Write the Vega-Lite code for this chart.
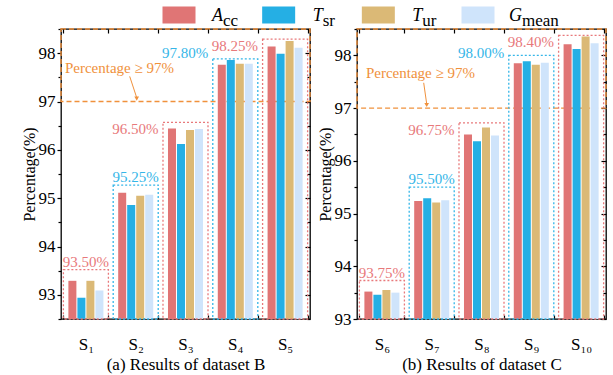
{
  "$schema": "https://vega.github.io/schema/vega-lite/v6.json",
  "padding": {"left": 20, "top": 5, "right": 5, "bottom": 2},
  "config": {
    "font": "Liberation Serif",
    "view": {"stroke": "black", "strokeWidth": 1.3},
    "axis": {"labelFont": "Liberation Serif", "titleFont": "Liberation Serif", "labelFontSize": 17, "titleFontSize": 16, "titleFontWeight": "normal", "labelColor": "black", "titleColor": "black", "domainColor": "black", "tickColor": "black", "grid": false, "domainWidth": 1.3, "tickWidth": 1.2}
  },
  "datasets": {
    "bars": [
      {"panel": "B", "group": "S₁", "metric": "Acc", "value": 93.29},
      {"panel": "B", "group": "S₁", "metric": "Tsr", "value": 92.94},
      {"panel": "B", "group": "S₁", "metric": "Tur", "value": 93.29},
      {"panel": "B", "group": "S₁", "metric": "Gmean", "value": 93.09},
      {"panel": "B", "group": "S₂", "metric": "Acc", "value": 95.11},
      {"panel": "B", "group": "S₂", "metric": "Tsr", "value": 94.86},
      {"panel": "B", "group": "S₂", "metric": "Tur", "value": 95.05},
      {"panel": "B", "group": "S₂", "metric": "Gmean", "value": 95.07},
      {"panel": "B", "group": "S₃", "metric": "Acc", "value": 96.44},
      {"panel": "B", "group": "S₃", "metric": "Tsr", "value": 96.12},
      {"panel": "B", "group": "S₃", "metric": "Tur", "value": 96.41},
      {"panel": "B", "group": "S₃", "metric": "Gmean", "value": 96.43},
      {"panel": "B", "group": "S₄", "metric": "Acc", "value": 97.76},
      {"panel": "B", "group": "S₄", "metric": "Tsr", "value": 97.86},
      {"panel": "B", "group": "S₄", "metric": "Tur", "value": 97.78},
      {"panel": "B", "group": "S₄", "metric": "Gmean", "value": 97.78},
      {"panel": "B", "group": "S₅", "metric": "Acc", "value": 98.14},
      {"panel": "B", "group": "S₅", "metric": "Tsr", "value": 97.99},
      {"panel": "B", "group": "S₅", "metric": "Tur", "value": 98.25},
      {"panel": "B", "group": "S₅", "metric": "Gmean", "value": 98.11},
      {"panel": "C", "group": "S₆", "metric": "Acc", "value": 93.52},
      {"panel": "C", "group": "S₆", "metric": "Tsr", "value": 93.46},
      {"panel": "C", "group": "S₆", "metric": "Tur", "value": 93.55},
      {"panel": "C", "group": "S₆", "metric": "Gmean", "value": 93.5},
      {"panel": "C", "group": "S₇", "metric": "Acc", "value": 95.24},
      {"panel": "C", "group": "S₇", "metric": "Tsr", "value": 95.29},
      {"panel": "C", "group": "S₇", "metric": "Tur", "value": 95.21},
      {"panel": "C", "group": "S₇", "metric": "Gmean", "value": 95.25},
      {"panel": "C", "group": "S₈", "metric": "Acc", "value": 96.5},
      {"panel": "C", "group": "S₈", "metric": "Tsr", "value": 96.37},
      {"panel": "C", "group": "S₈", "metric": "Tur", "value": 96.63},
      {"panel": "C", "group": "S₈", "metric": "Gmean", "value": 96.48},
      {"panel": "C", "group": "S₉", "metric": "Acc", "value": 97.85},
      {"panel": "C", "group": "S₉", "metric": "Tsr", "value": 97.89},
      {"panel": "C", "group": "S₉", "metric": "Tur", "value": 97.82},
      {"panel": "C", "group": "S₉", "metric": "Gmean", "value": 97.86},
      {"panel": "C", "group": "S₁₀", "metric": "Acc", "value": 98.21},
      {"panel": "C", "group": "S₁₀", "metric": "Tsr", "value": 98.12},
      {"panel": "C", "group": "S₁₀", "metric": "Tur", "value": 98.36},
      {"panel": "C", "group": "S₁₀", "metric": "Gmean", "value": 98.23}
    ],
    "boxes": [
      {"panel": "B", "group": "S₁", "top": 93.52, "label": "93.50%", "tone": "red"},
      {"panel": "B", "group": "S₂", "top": 95.27, "label": "95.25%", "tone": "blue"},
      {"panel": "B", "group": "S₃", "top": 96.57, "label": "96.50%", "tone": "red"},
      {"panel": "B", "group": "S₄", "top": 97.88, "label": "97.80%", "tone": "blue"},
      {"panel": "B", "group": "S₅", "top": 98.29, "label": "98.25%", "tone": "red"},
      {"panel": "C", "group": "S₆", "top": 93.73, "label": "93.75%", "tone": "red"},
      {"panel": "C", "group": "S₇", "top": 95.5, "label": "95.50%", "tone": "blue"},
      {"panel": "C", "group": "S₈", "top": 96.72, "label": "96.75%", "tone": "red"},
      {"panel": "C", "group": "S₉", "top": 98.0, "label": "98.00%", "tone": "blue"},
      {"panel": "C", "group": "S₁₀", "top": 98.38, "label": "98.40%", "tone": "red"}
    ],
    "legend": [
      {"metric": "Acc", "main": "A", "sub": "cc"},
      {"metric": "Tsr", "main": "T", "sub": "sr"},
      {"metric": "Tur", "main": "T", "sub": "ur"},
      {"metric": "Gmean", "main": "G", "sub": "mean"}
    ]
  },
  "spacing": -2,
  "vconcat": [
    {
      "width": 560, "height": 20,
      "view": {"stroke": null},
      "data": {"name": "legend"},
      "encoding": {
        "x": {"field": "metric", "type": "nominal", "sort": ["Acc", "Tsr", "Tur", "Gmean"], "scale": {"type": "point", "range": [118, 417], "padding": 0}, "axis": null}
      },
      "layer": [
        {"mark": {"type": "point", "shape": "M-1,-0.515H1V0.515H-1Z", "filled": true, "size": 1089, "opacity": 1, "strokeWidth": 0},
         "encoding": {"color": {"field": "metric", "type": "nominal", "scale": {"domain": ["Acc", "Tsr", "Tur", "Gmean"], "range": ["#E07575", "#25AFE4", "#DBB976", "#CFE4FB"]}, "legend": null}}},
        {"mark": {"type": "text", "align": "right", "baseline": "alphabetic", "dx": 44, "dy": 6, "fontSize": 18, "fontStyle": "italic", "color": "black"},
         "encoding": {"text": {"field": "main"}}},
        {"mark": {"type": "text", "align": "left", "baseline": "alphabetic", "dx": 44, "dy": 11, "fontSize": 17, "color": "black"},
         "encoding": {"text": {"field": "sub"}}}
      ]
    },
    {
      "spacing": 4,
      "hconcat": [
        {
          "width": 249, "height": 290,
          "resolve": {"axis": {"x": "independent", "y": "independent"}},
          "layer": [
            {"data": {"values": [{}]},
             "mark": {"type": "rect", "fill": "transparent", "stroke": "#F0913C", "strokeDash": [5, 3], "strokeWidth": 1.4},
             "encoding": {"y": {"datum": 97, "type": "quantitative", "axis": null}, "y2": {"datum": 98.5}}},
            {"data": {"name": "bars"}, "transform": [{"filter": "datum.panel === 'B'"}],
             "mark": {"type": "bar"},
             "encoding": {
               "x": {"field": "group", "type": "nominal", "sort": ["S₁", "S₂", "S₃", "S₄", "S₅"], "scale": {"paddingInner": 0.096, "paddingOuter": 0.048},
                     "axis": {"orient": "bottom", "title": "(a) Results of dataset B", "titleFontSize": 17, "titlePadding": 4, "tickBand": "extent", "labelAngle": 0, "tickSize": -4, "labelPadding": 21, "domain": false}},
               "xOffset": {"field": "metric", "type": "nominal", "sort": ["Acc", "Tsr", "Tur", "Gmean"], "scale": {"paddingInner": 0.111, "paddingOuter": 0.555}},
               "y": {"field": "value", "type": "quantitative", "scale": {"domain": [92.5, 98.5], "nice": false, "zero": false, "clamp": true},
                     "axis": {"orient": "left", "title": "Percentage(%)", "titlePadding": 1, "values": [92.5, 93, 93.5, 94, 94.5, 95, 95.5, 96, 96.5, 97, 97.5, 98, 98.5],
                              "labelExpr": "datum.value % 1 === 0 ? format(datum.value, 'd') : ''",
                              "tickSize": {"condition": {"test": "datum.value % 1 === 0", "value": 4}, "value": 3}, "labelPadding": 2, "domain": false}},
               "color": {"field": "metric", "type": "nominal", "scale": {"domain": ["Acc", "Tsr", "Tur", "Gmean"], "range": ["#E07575", "#25AFE4", "#DBB976", "#CFE4FB"]}, "legend": null}
             }},
            {"data": {"name": "boxes"}, "transform": [{"filter": "datum.panel === 'B'"}],
             "mark": {"type": "rect", "fill": "transparent", "strokeDash": [2, 2], "strokeWidth": 1.3},
             "encoding": {
               "x": {"field": "group", "type": "nominal", "sort": ["S₁", "S₂", "S₃", "S₄", "S₅"], "axis": {"orient": "top", "labels": false, "title": null, "tickBand": "extent", "tickSize": -4, "domain": false}},
               "y": {"field": "top", "type": "quantitative", "axis": {"orient": "right", "labels": false, "title": null, "values": [92.5, 93, 93.5, 94, 94.5, 95, 95.5, 96, 96.5, 97, 97.5, 98, 98.5], "tickSize": {"condition": {"test": "datum.value % 1 === 0", "value": -5}, "value": -3}, "domain": false}},
               "y2": {"datum": 92.5},
               "stroke": {"condition": {"test": "datum.tone === 'red'", "value": "#E8797B"}, "value": "#35B6E8"}
             }},
            {"data": {"name": "boxes"}, "transform": [{"filter": "datum.panel === 'B' && datum.top > 96 && datum.tone === 'red'"}],
             "mark": {"type": "text", "align": "right", "baseline": "middle", "dx": -27, "dy": 7, "fontSize": 15, "color": "#E8797B"},
             "encoding": {
               "x": {"field": "group", "type": "nominal", "sort": ["S₁", "S₂", "S₃", "S₄", "S₅"], "axis": null},
               "y": {"field": "top", "type": "quantitative", "axis": null},
               "text": {"field": "label"}
             }},
            {"data": {"name": "boxes"}, "transform": [{"filter": "datum.panel === 'B' && datum.top > 96 && datum.tone === 'blue'"}],
             "mark": {"type": "text", "align": "right", "baseline": "middle", "dx": -27, "dy": -6, "fontSize": 15, "color": "#35B6E8"},
             "encoding": {
               "x": {"field": "group", "type": "nominal", "sort": ["S₁", "S₂", "S₃", "S₄", "S₅"], "axis": null},
               "y": {"field": "top", "type": "quantitative", "axis": null},
               "text": {"field": "label"}
             }},
            {"data": {"name": "boxes"}, "transform": [{"filter": "datum.panel === 'B' && datum.top <= 96"}],
             "mark": {"type": "text", "align": "center", "baseline": "bottom", "dy": 0, "fontSize": 15},
             "encoding": {
               "x": {"field": "group", "type": "nominal", "sort": ["S₁", "S₂", "S₃", "S₄", "S₅"], "axis": null},
               "y": {"field": "top", "type": "quantitative", "axis": null},
               "text": {"field": "label"},
               "color": {"condition": {"test": "datum.tone === 'red'", "value": "#E8797B"}, "value": "#35B6E8"}
             }},
            {"data": {"values": [{}]},
             "mark": {"type": "text", "align": "left", "baseline": "middle", "dx": -21, "fontSize": 15, "color": "#F0913C"},
             "encoding": {"x": {"datum": "S₁", "axis": null}, "y": {"datum": 97.69, "axis": null}, "text": {"value": "Percentage  ≥ 97%"}}},
            {"data": {"values": [{}]},
             "mark": {"type": "rule", "color": "#F0913C", "strokeWidth": 1, "xOffset": -6, "x2Offset": 1},
             "encoding": {"x": {"datum": "S₂", "axis": null}, "x2": {"datum": "S₂"}, "y": {"datum": 97.52, "axis": null}, "y2": {"datum": 97.08}}},
            {"data": {"values": [{}]},
             "mark": {"type": "point", "shape": "triangle-down", "filled": true, "size": 22, "color": "#F0913C", "opacity": 1, "xOffset": 1},
             "encoding": {"x": {"datum": "S₂", "axis": null}, "y": {"datum": 97.06, "axis": null}}}
          ]
        },
        {
          "width": 249, "height": 290,
          "resolve": {"axis": {"x": "independent", "y": "independent"}},
          "layer": [
            {"data": {"values": [{}]},
             "mark": {"type": "rect", "fill": "transparent", "stroke": "#F0913C", "strokeDash": [5, 3], "strokeWidth": 1.4},
             "encoding": {"y": {"datum": 97, "type": "quantitative", "axis": null}, "y2": {"datum": 98.5}}},
            {"data": {"name": "bars"}, "transform": [{"filter": "datum.panel === 'C'"}],
             "mark": {"type": "bar"},
             "encoding": {
               "x": {"field": "group", "type": "nominal", "sort": ["S₆", "S₇", "S₈", "S₉", "S₁₀"], "scale": {"paddingInner": 0.096, "paddingOuter": 0.048},
                     "axis": {"orient": "bottom", "title": "(b) Results of dataset C", "titleFontSize": 17, "titlePadding": 4, "tickBand": "extent", "labelAngle": 0, "tickSize": -4, "labelPadding": 21, "domain": false}},
               "xOffset": {"field": "metric", "type": "nominal", "sort": ["Acc", "Tsr", "Tur", "Gmean"], "scale": {"paddingInner": 0.111, "paddingOuter": 0.555}},
               "y": {"field": "value", "type": "quantitative", "scale": {"domain": [93, 98.5], "nice": false, "zero": false, "clamp": true},
                     "axis": {"orient": "left", "title": "Percentage(%)", "titlePadding": 1, "values": [93, 93.5, 94, 94.5, 95, 95.5, 96, 96.5, 97, 97.5, 98, 98.5],
                              "labelExpr": "datum.value % 1 === 0 ? format(datum.value, 'd') : ''",
                              "tickSize": {"condition": {"test": "datum.value % 1 === 0", "value": 4}, "value": 3}, "labelPadding": 2, "domain": false}},
               "color": {"field": "metric", "type": "nominal", "scale": {"domain": ["Acc", "Tsr", "Tur", "Gmean"], "range": ["#E07575", "#25AFE4", "#DBB976", "#CFE4FB"]}, "legend": null}
             }},
            {"data": {"name": "boxes"}, "transform": [{"filter": "datum.panel === 'C'"}],
             "mark": {"type": "rect", "fill": "transparent", "strokeDash": [2, 2], "strokeWidth": 1.3},
             "encoding": {
               "x": {"field": "group", "type": "nominal", "sort": ["S₆", "S₇", "S₈", "S₉", "S₁₀"], "axis": {"orient": "top", "labels": false, "title": null, "tickBand": "extent", "tickSize": -4, "domain": false}},
               "y": {"field": "top", "type": "quantitative", "axis": {"orient": "right", "labels": false, "title": null, "values": [93, 93.5, 94, 94.5, 95, 95.5, 96, 96.5, 97, 97.5, 98, 98.5], "tickSize": {"condition": {"test": "datum.value % 1 === 0", "value": -5}, "value": -3}, "domain": false}},
               "y2": {"datum": 93},
               "stroke": {"condition": {"test": "datum.tone === 'red'", "value": "#E8797B"}, "value": "#35B6E8"}
             }},
            {"data": {"name": "boxes"}, "transform": [{"filter": "datum.panel === 'C' && datum.top > 96 && datum.tone === 'red'"}],
             "mark": {"type": "text", "align": "right", "baseline": "middle", "dx": -27, "dy": 7, "fontSize": 15, "color": "#E8797B"},
             "encoding": {
               "x": {"field": "group", "type": "nominal", "sort": ["S₆", "S₇", "S₈", "S₉", "S₁₀"], "axis": null},
               "y": {"field": "top", "type": "quantitative", "axis": null},
               "text": {"field": "label"}
             }},
            {"data": {"name": "boxes"}, "transform": [{"filter": "datum.panel === 'C' && datum.top > 96 && datum.tone === 'blue'"}],
             "mark": {"type": "text", "align": "right", "baseline": "middle", "dx": -27, "dy": -2, "fontSize": 15, "color": "#35B6E8"},
             "encoding": {
               "x": {"field": "group", "type": "nominal", "sort": ["S₆", "S₇", "S₈", "S₉", "S₁₀"], "axis": null},
               "y": {"field": "top", "type": "quantitative", "axis": null},
               "text": {"field": "label"}
             }},
            {"data": {"name": "boxes"}, "transform": [{"filter": "datum.panel === 'C' && datum.top <= 96"}],
             "mark": {"type": "text", "align": "center", "baseline": "bottom", "dy": 0, "fontSize": 15},
             "encoding": {
               "x": {"field": "group", "type": "nominal", "sort": ["S₆", "S₇", "S₈", "S₉", "S₁₀"], "axis": null},
               "y": {"field": "top", "type": "quantitative", "axis": null},
               "text": {"field": "label"},
               "color": {"condition": {"test": "datum.tone === 'red'", "value": "#E8797B"}, "value": "#35B6E8"}
             }},
            {"data": {"values": [{}]},
             "mark": {"type": "text", "align": "left", "baseline": "middle", "dx": -16, "fontSize": 15, "color": "#F0913C"},
             "encoding": {"x": {"datum": "S₆", "axis": null}, "y": {"datum": 97.67, "axis": null}, "text": {"value": "Percentage  ≥ 97%"}}},
            {"data": {"values": [{}]},
             "mark": {"type": "rule", "color": "#F0913C", "strokeWidth": 1, "xOffset": -8, "x2Offset": -5},
             "encoding": {"x": {"datum": "S₇", "axis": null}, "x2": {"datum": "S₇"}, "y": {"datum": 97.48, "axis": null}, "y2": {"datum": 97.08}}},
            {"data": {"values": [{}]},
             "mark": {"type": "point", "shape": "triangle-down", "filled": true, "size": 22, "color": "#F0913C", "opacity": 1, "xOffset": -5},
             "encoding": {"x": {"datum": "S₇", "axis": null}, "y": {"datum": 97.06, "axis": null}}}
          ]
        }
      ]
    }
  ]
}
